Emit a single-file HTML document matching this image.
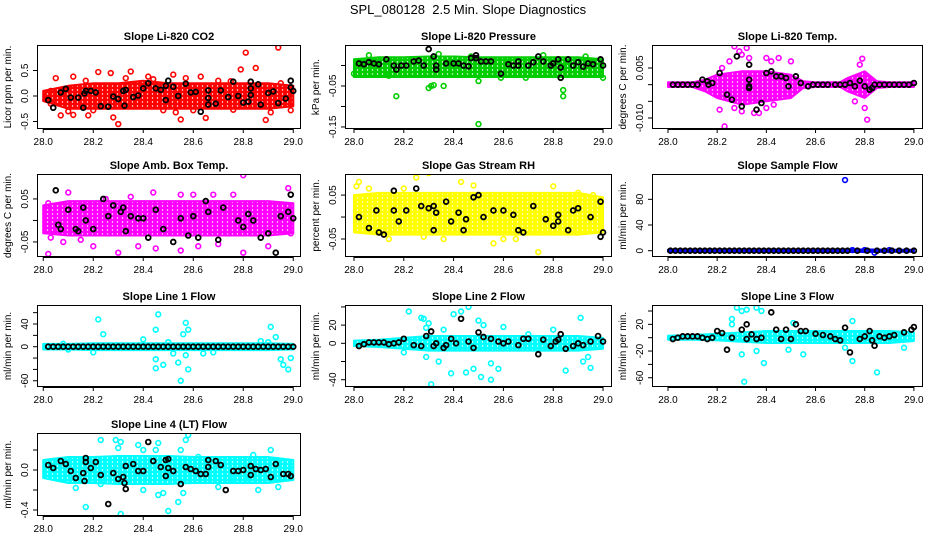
<!DOCTYPE html>
<html><head><meta charset="utf-8"><style>
html,body{margin:0;padding:0;background:#fff}
svg{display:block;font-family:"Liberation Sans",sans-serif}
</style></head><body>
<svg id="chart" width="936" height="540" viewBox="0 0 936 540" xmlns="http://www.w3.org/2000/svg">
<text x="468" y="14" text-anchor="middle" font-size="13">SPL_080128&#160; 2.5 Min. Slope Diagnostics</text>
</svg>
<script>
const xTicks = [28.0, 28.2, 28.4, 28.6, 28.8, 29.0];
const xTickLabels = ["28.0","28.2","28.4","28.6","28.8","29.0"];
const bandX11 = [28.0,28.1,28.2,28.3,28.4,28.5,28.6,28.7,28.8,28.9,29.0];

const co2BandLo = [-0.1,-0.25,-0.25,-0.25,-0.25,-0.25,-0.25,-0.25,-0.25,-0.25,-0.2];
const co2BandHi = [0.1,0.2,0.25,0.25,0.3,0.25,0.25,0.25,0.25,0.25,0.2];
const co2Pts = [[28.05,0.35],[28.12,0.38],[28.22,0.47],[28.27,0.45],[28.35,0.48],[28.63,0.38],[28.81,0.85],[28.85,0.55],[28.94,0.95],[28.79,0.52],[28.30,-0.55],[28.28,-0.42],[28.55,-0.46],[28.65,-0.43],[28.89,-0.47],[28.07,-0.38],[28.18,-0.38],[28.12,-0.37],[28.91,-0.32],[28.53,-0.32],[28.48,-0.28],[28.99,-0.28],[28.42,0.38],[28.52,0.42],[28.57,0.35],[28.33,0.35],[28.17,0.3],[28.44,0.33],[28.7,0.3],[28.75,0.29],[28.02,0.05],[28.1,-0.3],[28.2,-0.28],[28.6,-0.28],[28.76,-0.27],[28.95,0.25],[28.01,-0.05],[28.03,0.1],[28.03,-0.15]];
const co2Black = [[28.02,-0.08],[28.04,-0.23],[28.07,0.07],[28.09,0.14],[28.11,-0.03],[28.14,-0.03],[28.16,-0.23],[28.165,0.05],[28.17,0.1],[28.19,0.1],[28.21,0.07],[28.23,-0.2],[28.26,-0.21],[28.28,-0.01],[28.3,-0.06],[28.32,0.1],[28.33,0.12],[28.325,-0.19],[28.36,-0.02],[28.38,0.01],[28.4,0.15],[28.42,0.25],[28.45,0.15],[28.47,0.12],[28.49,-0.08],[28.49,0.2],[28.5,0.3],[28.52,0.18],[28.54,0.0],[28.57,0.24],[28.59,0.07],[28.61,0.08],[28.63,-0.31],[28.66,0.11],[28.66,-0.04],[28.66,-0.17],[28.69,-0.15],[28.71,0.11],[28.74,-0.02],[28.76,0.28],[28.78,0.0],[28.8,-0.13],[28.82,-0.11],[28.83,0.28],[28.83,0.15],[28.83,0.02],[28.86,0.23],[28.87,-0.17],[28.9,0.06],[28.92,0.09],[28.94,-0.14],[28.97,-0.05],[28.99,0.3],[28.99,0.17],[29.0,0.1]];

const presBandLo = [-0.028,-0.028,-0.028,-0.028,-0.028,-0.028,-0.028,-0.028,-0.028,-0.028,-0.028];
const presBandHi = [0.015,0.02,0.02,0.022,0.022,0.02,0.02,0.02,0.02,0.02,0.015];
const presPts = [[28.06,0.025],[28.17,-0.075],[28.3,-0.055],[28.31,-0.05],[28.32,-0.048],[28.36,-0.05],[28.34,0.028],[28.5,-0.143],[28.5,-0.038],[28.59,-0.03],[28.84,-0.06],[28.84,-0.075],[28.83,-0.03],[29.0,-0.03],[28.76,0.025],[28.93,0.022],[28.47,0.022],[28.14,-0.025],[28.69,-0.03],[28.0,-0.02]];
const presBlack = [[28.02,0.005],[28.04,0.003],[28.06,0.008],[28.08,0.005],[28.1,0.003],[28.13,0.015],[28.16,0.0],[28.17,-0.01],[28.19,0.0],[28.21,0.0],[28.24,0.01],[28.26,0.012],[28.28,0.0],[28.3,0.04],[28.32,0.022],[28.33,-0.01],[28.33,0.0],[28.37,0.005],[28.4,0.005],[28.42,0.005],[28.44,0.0],[28.46,-0.002],[28.47,0.018],[28.49,0.018],[28.49,0.025],[28.51,0.01],[28.53,0.01],[28.55,0.01],[28.59,-0.02],[28.62,0.003],[28.64,0.0],[28.66,0.0],[28.66,0.01],[28.7,0.0],[28.72,0.008],[28.74,0.022],[28.76,0.01],[28.79,0.0],[28.8,0.005],[28.82,0.015],[28.83,-0.03],[28.83,-0.005],[28.86,0.015],[28.88,0.0],[28.9,0.008],[28.92,-0.003],[28.94,0.005],[28.96,0.003],[28.99,0.015],[29.0,0.0]];

const tempBandX = [28.0,28.1,28.15,28.2,28.3,28.4,28.5,28.55,28.6,28.7,28.73,28.8,28.85,28.9,29.0];
const tempBandLo = [-0.0007,-0.0007,-0.002,-0.004,-0.006,-0.005,-0.004,-0.001,-0.0007,-0.0007,-0.002,-0.004,-0.001,-0.0007,-0.0007];
const tempBandHi = [0.0007,0.0007,0.0015,0.003,0.004,0.004,0.003,0.001,0.0007,0.0007,0.002,0.004,0.001,0.0007,0.0007];
const tempPts = [[28.27,0.0115],[28.29,0.01],[28.3,0.009],[28.32,0.011],[28.23,-0.0125],[28.21,-0.0075],[28.33,0.008],[28.4,0.008],[28.42,0.007],[28.45,0.008],[28.5,0.007],[28.35,-0.0085],[28.37,-0.0085],[28.27,-0.007],[28.81,-0.0105],[28.79,0.0078],[28.78,0.006],[28.8,-0.007],[28.76,-0.005],[28.25,0.007],[28.22,0.005],[28.3,-0.008],[28.43,-0.006],[28.4,-0.007]];
const tempBlack = [[28.02,0],[28.04,0],[28.06,0],[28.08,0],[28.1,0],[28.12,0],[28.14,0.0015],[28.16,0.001],[28.165,0],[28.18,0.0005],[28.21,0.0035],[28.24,-0.003],[28.26,-0.0045],[28.28,0.0085],[28.3,-0.0065],[28.33,0.006],[28.33,0.0015],[28.33,-0.0005],[28.33,-0.001],[28.36,-0.0075],[28.38,-0.0055],[28.4,0.0035],[28.42,0.004],[28.44,0.0025],[28.46,0.0025],[28.48,0.002],[28.49,-0.0005],[28.52,0.0025],[28.54,0.0005],[28.57,-0.0005],[28.59,0],[28.61,0],[28.63,0],[28.65,0],[28.68,0],[28.7,0],[28.72,0],[28.74,0.0005],[28.76,-0.0005],[28.78,0.0012],[28.8,-0.0005],[28.82,-0.0015],[28.83,-0.001],[28.84,0],[28.86,0],[28.88,0],[28.9,0],[28.92,0],[28.94,0],[28.96,0],[28.98,0],[29.0,0.0005]];

const boxBandLo = [-0.03,-0.035,-0.035,-0.035,-0.035,-0.035,-0.035,-0.035,-0.035,-0.035,-0.03];
const boxBandHi = [0.035,0.045,0.045,0.045,0.045,0.045,0.045,0.045,0.045,0.045,0.04];
const boxPts = [[28.02,0.04],[28.03,-0.04],[28.02,-0.078],[28.1,0.065],[28.25,0.05],[28.3,-0.075],[28.38,-0.06],[28.44,0.065],[28.55,0.06],[28.6,0.06],[28.8,0.105],[28.8,-0.075],[28.76,0.06],[28.68,0.06],[28.98,0.075],[28.55,-0.07],[28.45,-0.065],[28.2,-0.06],[28.08,-0.05],[28.9,-0.06],[28.99,-0.03],[28.15,-0.045],[28.7,-0.055],[28.35,0.055],[28.62,-0.06]];
const boxBlack = [[28.05,0.07],[28.06,-0.01],[28.07,-0.02],[28.1,0.025],[28.13,-0.02],[28.14,-0.025],[28.16,0.03],[28.17,0],[28.2,-0.02],[28.24,0.05],[28.26,0.01],[28.28,0.035],[28.31,0.02],[28.32,0.03],[28.33,-0.025],[28.35,0.01],[28.38,0.005],[28.4,0.005],[28.42,-0.04],[28.45,0.025],[28.48,-0.02],[28.52,-0.05],[28.55,0.005],[28.58,-0.035],[28.6,0.01],[28.62,-0.04],[28.65,0.045],[28.66,0.02],[28.7,-0.045],[28.72,0.03],[28.78,0.0],[28.8,-0.015],[28.82,0.015],[28.84,0.0],[28.87,-0.04],[28.9,-0.03],[28.93,-0.075],[28.95,0.01],[28.98,0.02],[28.99,0.06],[29.0,0.005]];

const rhBandLo = [-0.035,-0.04,-0.04,-0.04,-0.04,-0.04,-0.04,-0.04,-0.04,-0.04,-0.035];
const rhBandHi = [0.05,0.055,0.055,0.055,0.055,0.055,0.055,0.055,0.055,0.055,0.045];
const rhPts = [[28.01,0.07],[28.02,0.08],[28.06,0.065],[28.25,0.09],[28.3,0.1],[28.43,0.08],[28.48,0.072],[28.56,-0.06],[28.6,-0.05],[28.74,-0.08],[28.8,0.07],[28.65,-0.05],[28.14,-0.05],[28.36,-0.05],[28.28,-0.045],[28.96,0.05],[28.9,0.055],[28.2,0.065]];
const rhBlack = [[28.02,0.0],[28.06,-0.025],[28.1,-0.035],[28.12,-0.04],[28.09,0.015],[28.16,0.06],[28.16,0.015],[28.18,-0.01],[28.21,0.015],[28.25,0.065],[28.27,0.025],[28.3,0.02],[28.32,0.025],[28.33,0.01],[28.32,-0.03],[28.37,0.035],[28.39,-0.01],[28.42,0.01],[28.44,-0.03],[28.45,-0.005],[28.48,0.045],[28.5,0.05],[28.52,0.0],[28.56,0.015],[28.6,0.015],[28.64,0.005],[28.66,-0.03],[28.68,-0.035],[28.72,0.025],[28.77,-0.005],[28.8,-0.02],[28.82,0.005],[28.82,-0.01],[28.86,-0.03],[28.88,0.015],[28.9,0.02],[28.95,0.0],[28.99,0.035],[29.0,-0.035],[28.99,-0.045]];

const sfBandLo = [-1.5,-1.5,-1.5,-1.5,-1.5,-1.5,-1.5,-1.5,-2,-1.5,-1.5];
const sfBandHi = [1.5,1.5,1.5,1.5,1.5,1.5,1.5,1.5,2,1.5,1.5];
const sfPts = [[28.72,110],[28.84,-3],[28.75,1],[28.8,1],[28.9,1]];
const sfBlack = [[28.01,0],[28.03,0],[28.05,0],[28.07,0],[28.09,0],[28.11,0],[28.13,0],[28.15,0],[28.17,0],[28.19,0],[28.21,0],[28.23,0],[28.25,0],[28.27,0],[28.29,0],[28.31,0],[28.33,0],[28.35,0],[28.37,0],[28.39,0],[28.41,0],[28.43,0],[28.45,0],[28.47,0],[28.49,0],[28.51,0],[28.53,0],[28.55,0],[28.57,0],[28.59,0],[28.61,0],[28.63,0],[28.65,0],[28.67,0],[28.69,0],[28.71,0],[28.73,0],[28.77,0],[28.81,0],[28.85,0],[28.88,0],[28.91,0],[28.94,0],[28.97,0],[29.0,0]];

const l1BandLo = [-5,-5,-6,-6,-6,-6,-6,-6,-6,-6,-5];
const l1BandHi = [5,5,6,6,6,6,6,6,6,6,5];
const l1Pts = [[28.22,48],[28.24,22],[28.46,57],[28.45,30],[28.45,-22],[28.45,-38],[28.48,-32],[28.55,-60],[28.54,-28],[28.56,22],[28.57,42],[28.58,30],[28.57,-15],[28.58,-40],[28.91,35],[28.93,17],[28.95,-22],[28.96,-32],[28.98,-40],[28.99,-20],[28.4,13],[28.2,-10],[28.64,-12],[28.68,-10],[28.9,8],[28.1,-5],[28.87,10],[28.52,-12],[28.5,8],[28.08,5]];
const l1Black = [[28.02,0],[28.04,0],[28.06,0],[28.08,0],[28.1,0],[28.12,0],[28.14,0],[28.16,0],[28.18,0],[28.2,0],[28.22,0],[28.24,0],[28.26,0],[28.28,0],[28.3,0],[28.32,0],[28.34,0],[28.36,0],[28.38,0],[28.4,0],[28.42,0],[28.44,0],[28.46,0],[28.48,0],[28.5,0],[28.52,0],[28.54,0],[28.56,0],[28.58,0],[28.6,0],[28.62,0],[28.64,0],[28.66,0],[28.68,0],[28.7,0],[28.72,0],[28.74,0],[28.76,0],[28.78,0],[28.8,0],[28.82,0],[28.84,0],[28.86,0],[28.88,0],[28.9,0],[28.92,0],[28.94,0],[28.96,0],[28.98,0],[29.0,0]];

const l2BandLo = [-3,-4,-6,-8,-8,-8,-8,-8,-8,-8,-6];
const l2BandHi = [3,4,6,8,8,8,8,8,8,8,6];
const l2Pts = [[28.22,35],[28.27,28],[28.28,27],[28.3,22],[28.29,17],[28.4,32],[28.43,35],[28.46,40],[28.5,25],[28.52,20],[28.31,-45],[28.39,-33],[28.45,-32],[28.48,-28],[28.51,-37],[28.55,-22],[28.58,-28],[28.55,-40],[28.34,-20],[28.29,-15],[28.85,-30],[28.91,28],[28.92,-20],[28.94,-15],[28.95,-27],[28.8,15],[28.7,10],[28.2,-10],[28.36,15],[28.6,18]];
const l2Black = [[28.02,-3],[28.04,-1],[28.06,1],[28.08,1],[28.1,1],[28.12,1],[28.14,-1],[28.16,0],[28.18,1],[28.2,5],[28.24,-2],[28.27,-3],[28.29,8],[28.31,13],[28.32,-3],[28.33,0],[28.36,-5],[28.37,-2],[28.39,5],[28.41,0],[28.43,27],[28.46,2],[28.48,-5],[28.5,12],[28.52,7],[28.55,5],[28.58,2],[28.6,0],[28.62,2],[28.66,-2],[28.68,5],[28.7,5],[28.74,-12],[28.76,4],[28.79,-3],[28.81,2],[28.82,4],[28.83,10],[28.85,-6],[28.88,-3],[28.9,0],[28.92,-2],[28.95,2],[28.98,8],[29.0,2]];

const l3BandLo = [-3,-3,-4,-6,-8,-8,-8,-8,-8,-8,-5];
const l3BandHi = [3,4,6,8,10,10,10,10,10,10,8];
const l3Pts = [[28.28,45],[28.3,40],[28.32,42],[28.36,45],[28.38,40],[28.26,28],[28.31,-66],[28.39,-38],[28.85,-52],[28.3,-25],[28.36,-20],[28.49,-18],[28.55,-25],[28.72,-15],[28.75,-35],[28.96,-15],[28.75,25],[28.51,22],[28.26,20]];
const l3Black = [[28.02,-2],[28.04,0],[28.06,2],[28.08,2],[28.1,2],[28.12,2],[28.14,0],[28.16,-2],[28.18,0],[28.2,10],[28.22,7],[28.24,-18],[28.26,0],[28.3,12],[28.32,20],[28.32,-2],[28.34,5],[28.36,-2],[28.38,0],[28.42,38],[28.44,12],[28.46,-2],[28.48,12],[28.5,-2],[28.52,20],[28.54,10],[28.56,10],[28.6,6],[28.63,4],[28.66,2],[28.68,-2],[28.7,-4],[28.72,15],[28.74,-22],[28.78,-2],[28.8,2],[28.82,10],[28.83,-4],[28.84,-12],[28.86,2],[28.88,0],[28.9,2],[28.92,4],[28.96,8],[28.99,12],[29.0,16]];

const l4BandLo = [-0.08,-0.13,-0.13,-0.14,-0.14,-0.14,-0.13,-0.13,-0.13,-0.13,-0.1];
const l4BandHi = [0.1,0.13,0.13,0.14,0.14,0.14,0.13,0.13,0.13,0.13,0.1];
const l4Pts = [[28.17,-0.37],[28.31,-0.44],[28.23,0.3],[28.29,0.3],[28.31,0.28],[28.3,0.22],[28.38,0.25],[28.4,0.2],[28.46,0.27],[28.45,0.2],[28.57,0.3],[28.58,0.35],[28.55,0.2],[28.5,-0.41],[28.54,-0.32],[28.46,-0.25],[28.48,-0.23],[28.56,-0.23],[28.13,-0.18],[28.23,-0.14],[28.91,0.2],[28.84,0.15],[28.86,-0.2],[28.94,-0.17],[28.7,-0.17],[28.75,-0.1],[28.62,0.13],[28.82,-0.1],[28.4,-0.2]];
const l4Black = [[28.02,0.05],[28.04,0.02],[28.07,0.09],[28.09,0.06],[28.11,-0.01],[28.13,-0.08],[28.16,-0.03],[28.165,-0.11],[28.17,0.08],[28.17,0.12],[28.19,0.02],[28.21,0.08],[28.23,-0.05],[28.26,-0.34],[28.28,-0.03],[28.3,-0.09],[28.32,-0.07],[28.325,-0.13],[28.33,-0.19],[28.33,0.04],[28.36,0.06],[28.38,-0.01],[28.4,-0.01],[28.42,0.28],[28.44,0.09],[28.47,0.03],[28.49,-0.06],[28.49,0.1],[28.5,0.02],[28.5,0.11],[28.52,-0.01],[28.55,-0.14],[28.57,0.03],[28.59,0.01],[28.61,-0.01],[28.63,-0.04],[28.65,-0.04],[28.66,0.1],[28.66,0.03],[28.69,0.09],[28.71,0.05],[28.73,-0.2],[28.76,-0.01],[28.78,-0.01],[28.8,0.0],[28.83,-0.05],[28.83,0.04],[28.85,0.01],[28.87,0.0],[28.89,0.01],[28.91,-0.07],[28.93,0.06],[28.96,-0.04],[28.98,-0.04],[28.99,-0.06]];

const NS = "http://www.w3.org/2000/svg";
const svg = document.getElementById("chart");
function mk(tag, attrs, parent){const e=document.createElementNS(NS,tag);for(const k in attrs)e.setAttribute(k,attrs[k]);(parent||svg).appendChild(e);return e;}

const cols = [{l:37,r:301,d0:27.975,d1:29.031},{l:345,r:612,d0:27.964,d1:29.036},{l:652,r:923,d0:27.935,d1:29.037}];
const rows = [{t:45,b:129},{t:174,b:257},{t:305,b:387},{t:433,b:516}];

const panels = [
 {name:"co2",title:"Slope Li-820 CO2",yt:"Licor ppm per min.",c:0,r:0,y0:-0.647,y1:1.0,ticks:[-0.5,0,0.5],labels:["-0.5","0.0","0.5"],col:"#ff0000",bx:bandX11,lo:co2BandLo,hi:co2BandHi,pts:co2Pts,blk:co2Black},
 {name:"pressure",title:"Slope Li-820 Pressure",yt:"kPa per min.",c:1,r:0,y0:-0.155,y1:0.05,ticks:[-0.15,-0.1,-0.05,0],labels:["-0.15","","-0.05",""],col:"#00cd00",bx:bandX11,lo:presBandLo,hi:presBandHi,pts:presPts,blk:presBlack},
 {name:"temp",title:"Slope Li-820 Temp.",yt:"degrees C per min.",c:2,r:0,y0:-0.0133,y1:0.0119,ticks:[-0.01,-0.005,0,0.005],labels:["-0.010","","","0.005"],col:"#ff00ff",bx:tempBandX,lo:tempBandLo,hi:tempBandHi,pts:tempPts,blk:tempBlack},
 {name:"amb-box-temp",title:"Slope Amb. Box Temp.",yt:"degrees C per min.",c:0,r:1,y0:-0.085,y1:0.108,ticks:[-0.05,0,0.05],labels:["-0.05","","0.05"],col:"#ff00ff",bx:bandX11,lo:boxBandLo,hi:boxBandHi,pts:boxPts,blk:boxBlack},
 {name:"gas-stream-rh",title:"Slope Gas Stream RH",yt:"percent per min.",c:1,r:1,y0:-0.091,y1:0.098,ticks:[-0.05,0,0.05],labels:["-0.05","","0.05"],col:"#ffff00",bx:bandX11,lo:rhBandLo,hi:rhBandHi,pts:rhPts,blk:rhBlack},
 {name:"sample-flow",title:"Slope Sample Flow",yt:"ml/min per min.",c:2,r:1,y0:-9.8,y1:119.4,ticks:[0,40,80],labels:["0","40","80"],col:"#0000ff",bx:bandX11,lo:sfBandLo,hi:sfBandHi,pts:sfPts,blk:sfBlack},
 {name:"line1-flow",title:"Slope Line 1 Flow",yt:"ml/min per min.",c:0,r:2,y0:-71,y1:73.5,ticks:[-60,-40,-20,0,20,40,60],labels:["-60","","","0","","40",""],col:"#00ffff",bx:bandX11,lo:l1BandLo,hi:l1BandHi,pts:l1Pts,blk:l1Black},
 {name:"line2-flow",title:"Slope Line 2 Flow",yt:"ml/min per min.",c:1,r:2,y0:-48,y1:42.1,ticks:[-40,-20,0,20,40],labels:["-40","","0","20",""],col:"#00ffff",bx:bandX11,lo:l2BandLo,hi:l2BandHi,pts:l2Pts,blk:l2Black},
 {name:"line3-flow",title:"Slope Line 3 Flow",yt:"ml/min per min.",c:2,r:2,y0:-73.9,y1:49,ticks:[-60,-40,-20,0,20,40],labels:["-60","","-20","","20",""],col:"#00ffff",bx:bandX11,lo:l3BandLo,hi:l3BandHi,pts:l3Pts,blk:l3Black},
 {name:"line4-flow",title:"Slope Line 4 (LT) Flow",yt:"ml/min per min.",c:0,r:3,y0:-0.46,y1:0.37,ticks:[-0.4,-0.2,0,0.2],labels:["-0.4","","0.0",""],col:"#00ffff",bx:bandX11,lo:l4BandLo,hi:l4BandHi,pts:l4Pts,blk:l4Black}
];

const defs = mk("defs",{});
panels.forEach(p=>{
  const C=cols[p.c], R=rows[p.r];
  const sx=v=>C.l+(v-C.d0)/(C.d1-C.d0)*(C.r-C.l);
  const sy=v=>R.b-(v-p.y0)/(p.y1-p.y0)*(R.b-R.t);
  const pat=mk("pattern",{id:"pat-"+p.name,width:5,height:4,patternUnits:"userSpaceOnUse"},defs);
  mk("rect",{x:0,y:0,width:5,height:4,fill:p.col},pat);
  mk("circle",{cx:2.5,cy:2,r:0.7,fill:"#fff"},pat);
  const g=mk("g",{});
  
  
  const cx=(C.l+C.r)/2;
  const t=mk("text",{x:cx,y:R.t-5,"text-anchor":"middle","font-size":"11","font-weight":"bold"},g);
  t.textContent=p.title;
  
  
  const clip=mk("clipPath",{id:"clip-"+p.name},g);
  mk("rect",{x:C.l,y:R.t,width:C.r-C.l,height:R.b-R.t},clip);
  const plot=mk("g",{"clip-path":"url(#clip-"+p.name+")"},g);
  let d="";
  p.bx.forEach((x,i)=>{d+=(i?"L":"M")+sx(x).toFixed(1)+","+sy(p.hi[i]).toFixed(1);});
  for(let i=p.bx.length-1;i>=0;i--) d+="L"+sx(p.bx[i]).toFixed(1)+","+sy(p.lo[i]).toFixed(1);
  const band=mk("path",{d:d+"Z",fill:"url(#pat-"+p.name+")",stroke:p.col,"stroke-width":"2","stroke-linejoin":"round"},plot);
  
  
  p.pts.forEach(pt=>{
    const c=mk("circle",{cx:sx(pt[0]),cy:sy(pt[1]),r:2.4,fill:"none",stroke:p.col,"stroke-width":1.6},plot);
    
    
  });
  p.blk.forEach(pt=>{
    const c=mk("circle",{cx:sx(pt[0]),cy:sy(pt[1]),r:2.4,fill:"none",stroke:"#000","stroke-width":1.8},plot);
    
    
  });
  const box=mk("rect",{x:C.l+0.5,y:R.t+0.5,width:C.r-C.l-1,height:R.b-R.t-1,fill:"none",stroke:"#000","stroke-width":1},g);
  
  
  const xa=mk("g",{},g);
  
  
  mk("line",{x1:sx(xTicks[0]),x2:sx(xTicks[xTicks.length-1]),y1:R.b+0.5,y2:R.b+0.5,stroke:"#000"},xa);
  xTicks.forEach((v,i)=>{
    mk("line",{x1:sx(v),x2:sx(v),y1:R.b,y2:R.b+4,stroke:"#000"},xa);
    const tl=mk("text",{x:sx(v),y:R.b+16,"text-anchor":"middle","font-size":"10"},xa);
    tl.textContent=xTickLabels[i];
  });
  const ya=mk("g",{},g);
  
  
  mk("line",{x1:C.l+0.5,x2:C.l+0.5,y1:sy(p.ticks[0]),y2:sy(p.ticks[p.ticks.length-1]),stroke:"#000"},ya);
  p.ticks.forEach((v,i)=>{
    if(sy(v)<R.t-0.5||sy(v)>R.b+0.5) return;
    mk("line",{x1:C.l-4,x2:C.l,y1:sy(v),y2:sy(v),stroke:"#000"},ya);
    if(p.labels[i]){
      const yy=sy(v);
      const tl=mk("text",{x:C.l-9,y:yy,"text-anchor":"middle","font-size":"10",transform:"rotate(-90 "+(C.l-9)+" "+yy+")"},ya);
      tl.textContent=p.labels[i];
    }
  });
  const ym=(R.t+R.b)/2, xt=C.l-26;
  const yt=mk("text",{x:xt,y:ym,"text-anchor":"middle","font-size":"10",transform:"rotate(-90 "+xt+" "+ym+")"},g);
  yt.textContent=p.yt;
  
  
});
</script>
</body></html>
